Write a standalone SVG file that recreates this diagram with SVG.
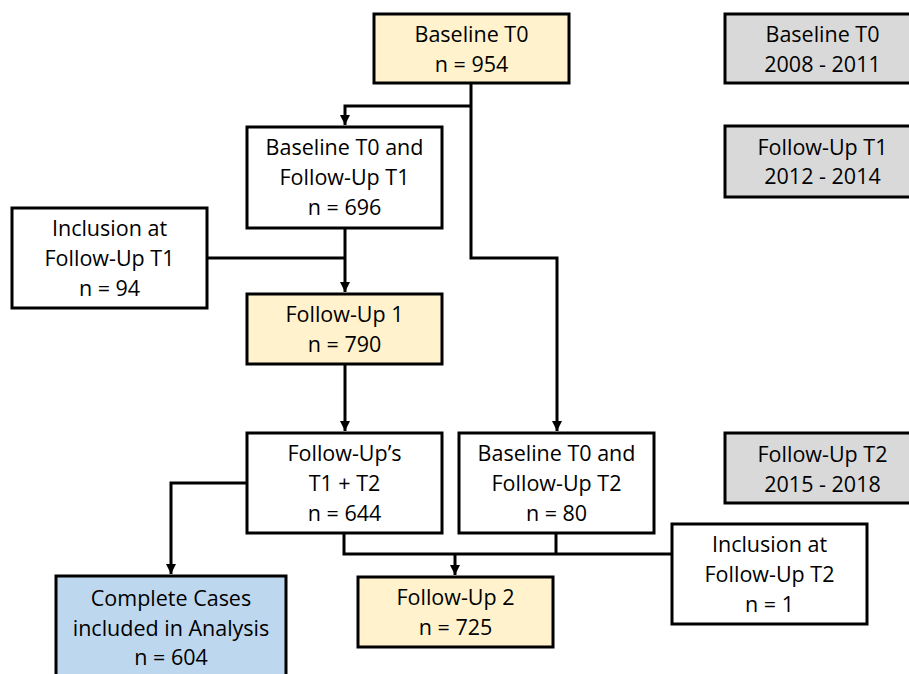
<svg xmlns="http://www.w3.org/2000/svg" width="909" height="674" viewBox="0 0 909 674">
<style>
.box{stroke:#000;stroke-width:3}
.w{fill:#fff}.y{fill:#FFF2CC}.b{fill:#BDD7EE}.g{fill:#D9D9D9}
text{font-family:"Open Sans","Liberation Sans",sans-serif;font-size:21.5px;fill:#000;text-anchor:middle}
.c{fill:none;stroke:#000;stroke-width:3}
</style>
<defs>
<marker id="ah" viewBox="0 0 10 10" refX="10" refY="5" markerWidth="10" markerHeight="10" markerUnits="userSpaceOnUse" orient="auto">
<path d="M0,0 L10,5 L0,10 z" fill="#000"/>
</marker>
</defs>
<rect width="909" height="674" fill="#fff"/>
<g id="connectors">
<path class="c" d="M471,83 V258 H557 V431" marker-end="url(#ah)"/>
<path class="c" d="M471,106 H345 V125" marker-end="url(#ah)"/>
<path class="c" d="M345,228 V292" marker-end="url(#ah)"/>
<path class="c" d="M207,258 H345"/>
<path class="c" d="M345,364 V431" marker-end="url(#ah)"/>
<path class="c" d="M247,483 H171 V574" marker-end="url(#ah)"/>
<path class="c" d="M344,533 V554 H672"/>
<path class="c" d="M556,533 V554"/>
<path class="c" d="M455,554 V575" marker-end="url(#ah)"/>
</g>
<g id="baseline-t0">
<rect class="box y" x="374" y="14" width="195" height="69"/>
<text x="471.5" y="42">Baseline T0</text>
<text x="471.5" y="72">n = 954</text>
</g>
<g id="baseline-t0-followup-t1">
<rect class="box w" x="247" y="127" width="195" height="101"/>
<text x="344.5" y="155">Baseline T0 and</text>
<text x="344.5" y="185">Follow-Up T1</text>
<text x="344.5" y="215">n = 696</text>
</g>
<g id="inclusion-t1">
<rect class="box w" x="12" y="208" width="195" height="100"/>
<text x="109.5" y="236">Inclusion at</text>
<text x="109.5" y="266">Follow-Up T1</text>
<text x="109.5" y="296">n = 94</text>
</g>
<g id="follow-up-1">
<rect class="box y" x="247" y="294" width="195" height="70"/>
<text x="344.5" y="322">Follow-Up 1</text>
<text x="344.5" y="352">n = 790</text>
</g>
<g id="follow-ups-t1-t2">
<rect class="box w" x="247" y="433" width="195" height="100"/>
<text x="344.5" y="461">Follow-Up’s</text>
<text x="344.5" y="491">T1 + T2</text>
<text x="344.5" y="521">n = 644</text>
</g>
<g id="baseline-t0-followup-t2">
<rect class="box w" x="459" y="433" width="195" height="100"/>
<text x="556.5" y="461">Baseline T0 and</text>
<text x="556.5" y="491">Follow-Up T2</text>
<text x="556.5" y="521">n = 80</text>
</g>
<g id="complete-cases">
<rect class="box b" x="56" y="576" width="230" height="110"/>
<text x="171" y="606">Complete Cases</text>
<text x="171" y="636">included in Analysis</text>
<text x="171" y="665">n = 604</text>
</g>
<g id="follow-up-2">
<rect class="box y" x="358" y="577" width="195" height="70"/>
<text x="455.5" y="605">Follow-Up 2</text>
<text x="455.5" y="635">n = 725</text>
</g>
<g id="inclusion-t2">
<rect class="box w" x="672" y="524" width="195" height="100"/>
<text x="769.5" y="552">Inclusion at</text>
<text x="769.5" y="582">Follow-Up T2</text>
<text x="769.5" y="612">n = 1</text>
</g>
<g id="period-t0">
<rect class="box g" x="725" y="14" width="195" height="69"/>
<text x="822.5" y="42">Baseline T0</text>
<text x="822.5" y="72">2008 - 2011</text>
</g>
<g id="period-t1">
<rect class="box g" x="725" y="126" width="195" height="71"/>
<text x="822.5" y="155">Follow-Up T1</text>
<text x="822.5" y="184">2012 - 2014</text>
</g>
<g id="period-t2">
<rect class="box g" x="725" y="433" width="195" height="70"/>
<text x="822.5" y="462">Follow-Up T2</text>
<text x="822.5" y="492">2015 - 2018</text>
</g>
</svg>
